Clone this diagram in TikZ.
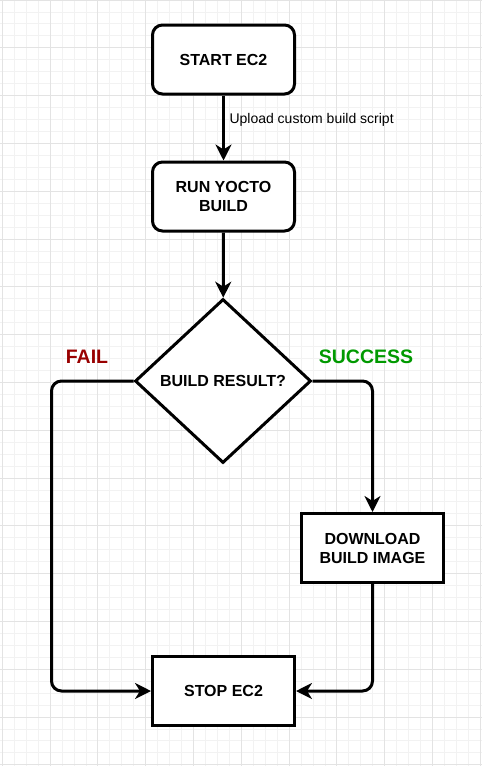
\documentclass[tikz,border=0pt]{standalone}
\usepackage{fontspec}
\setmainfont{Liberation Sans}
\usetikzlibrary{arrows.meta,shapes.geometric}

\definecolor{failred}{HTML}{990000}
\definecolor{okgreen}{HTML}{009900}
\definecolor{gridminor}{HTML}{F2F2F2}
\definecolor{gridmajor}{HTML}{E3E3E3}

\tikzset{
    box/.style={draw, fill=white, line width=3pt, minimum width=142pt,
        minimum height=69pt, inner sep=0pt, align=center,
        font=\bfseries\fontsize{16}{19}\selectfont},
    roundbox/.style={box, rounded corners=10pt},
    decision/.style={diamond, draw, fill=white, line width=3pt, inner sep=0pt,
        minimum width=176pt, minimum height=164pt, align=center,
        font=\bfseries\fontsize{16}{19}\selectfont},
    flow/.style={line width=3pt, rounded corners=10pt,
        -{Stealth[length=16pt,width=16pt,inset=5pt]}},
    branch/.style={font=\bfseries\fontsize{19.5}{22}\selectfont},
}

\begin{document}
\begin{tikzpicture}[x=1pt,y=-1pt]

    \useasboundingbox (0,0) rectangle (482,766);

    % grid
    \scope
    \clip (0,0) rectangle (482,766);
    \foreach \i in {0,...,64} {
        \draw[gridminor, line width=0.9pt] (2.3+\i*11.95,0) -- ++(0,766);
        \draw[gridminor, line width=0.9pt] (0,\i*11.95) -- ++(482,0);
    }
    \foreach \i in {0,...,16} {
        \draw[gridmajor, line width=1pt] (2.3+\i*47.8,0) -- ++(0,766);
        \draw[gridmajor, line width=1pt] (0,\i*47.8) -- ++(482,0);
    }
    \endscope

    % steps
    \node[roundbox] (start) at (223.5,59.5) {START EC2};
    \node[roundbox] (run) at (223.5,196.5) {RUN YOCTO\\BUILD};
    \node[decision] (result) at (223,381) {BUILD RESULT?};
    \node[box] (download) at (372.5,548) {DOWNLOAD\\BUILD IMAGE};
    \node[box] (stop) at (223.5,691) {STOP EC2};

    \coordinate (failbend) at (51.5,0);

    % branch labels
    \node[branch, text=failred] (fail) at (87,357) {FAIL};
    \node[branch, text=okgreen] (success) at (366,357) {SUCCESS};

    % connectors
    \draw[flow] (start) -- node[pos=0.38, anchor=west, inner sep=4.5pt,
        font=\fontsize{14}{16}\selectfont] {Upload custom build script} (run);
    \draw[flow] (run) -- (result);
    \draw[flow] (result.west) -- (result.west -| failbend)
        -- (failbend |- stop.west) -- (stop.west);
    \draw[flow] (result.east) -| (download.north);
    \draw[flow] (download.south) |- (stop.east);

\end{tikzpicture}
\end{document}
